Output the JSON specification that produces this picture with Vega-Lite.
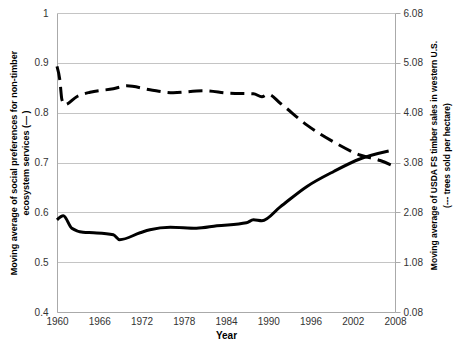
{
  "$schema": "https://vega.github.io/schema/vega-lite/v6.json",
  "autosize": "none",
  "width": 338,
  "height": 299,
  "padding": {"left": 57, "top": 13, "right": 68, "bottom": 50},
  "background": "white",
  "config": {
    "font": "Liberation Sans",
    "view": {"stroke": null},
    "axis": {"labelFont": "Liberation Sans", "titleFont": "Liberation Sans", "labelFontSize": 10, "titleFontSize": 9, "labelColor": "#333", "titleColor": "#000", "domainColor": "#aaa", "tickColor": "#aaa", "gridColor": "#c4c4c4"}
  },
  "datasets": {
    "pref": [
      {"year": 1960, "value": 0.585},
      {"year": 1960.9, "value": 0.593},
      {"year": 1962.1, "value": 0.568},
      {"year": 1963.7, "value": 0.56},
      {"year": 1965.2, "value": 0.559},
      {"year": 1968.0, "value": 0.555},
      {"year": 1968.9, "value": 0.545},
      {"year": 1971.8, "value": 0.559},
      {"year": 1973.2, "value": 0.565},
      {"year": 1976.1, "value": 0.57},
      {"year": 1979.8, "value": 0.568},
      {"year": 1982.7, "value": 0.573},
      {"year": 1986.9, "value": 0.579},
      {"year": 1987.9, "value": 0.585},
      {"year": 1989.1, "value": 0.583},
      {"year": 1991.7, "value": 0.611},
      {"year": 1995.5, "value": 0.652},
      {"year": 1999.3, "value": 0.682},
      {"year": 2003.0, "value": 0.707},
      {"year": 2007.1, "value": 0.723}
    ],
    "timber": [
      {"year": 1960, "sales": 5.01},
      {"year": 1960.4, "sales": 4.74},
      {"year": 1960.7, "sales": 4.34},
      {"year": 1961.1, "sales": 4.24},
      {"year": 1962.8, "sales": 4.4},
      {"year": 1964.7, "sales": 4.49},
      {"year": 1968.0, "sales": 4.56},
      {"year": 1969.9, "sales": 4.62},
      {"year": 1973.2, "sales": 4.54},
      {"year": 1976.5, "sales": 4.48},
      {"year": 1980.8, "sales": 4.52},
      {"year": 1984.6, "sales": 4.47},
      {"year": 1987.9, "sales": 4.46},
      {"year": 1989.1, "sales": 4.4},
      {"year": 1990.0, "sales": 4.45},
      {"year": 1991.7, "sales": 4.27},
      {"year": 1995.5, "sales": 3.83},
      {"year": 1999.2, "sales": 3.5},
      {"year": 2003.0, "sales": 3.23},
      {"year": 2005.9, "sales": 3.12},
      {"year": 2007.8, "sales": 3.01}
    ]
  },
  "layer": [
    {
      "data": {"name": "pref"},
      "mark": {"type": "line", "color": "black", "strokeWidth": 3, "interpolate": "monotone"},
      "encoding": {
        "x": {"field": "year", "type": "quantitative", "scale": {"domain": [1960, 2008], "nice": false, "zero": false},
          "axis": {"title": "Year", "values": [1960, 1966, 1972, 1978, 1984, 1990, 1996, 2002, 2008], "format": "d", "grid": false, "ticks": false, "labelFlush": false, "labelOverlap": false, "labelPadding": 4, "titlePadding": 4, "titleFontWeight": "bold", "titleFontSize": 10}},
        "y": {"field": "value", "type": "quantitative", "scale": {"domain": [0.4, 1], "nice": false, "zero": false},
          "axis": {"title": ["Moving average of social preferences  for non-timber", "ecosystem services (— )"], "values": [0.4, 0.5, 0.6, 0.7, 0.8, 0.9, 1], "format": ".1~f", "grid": true, "tickSize": 0, "labelFlush": false, "labelPadding": 9, "titlePadding": 4, "titleFontWeight": "bold", "titleLineHeight": 12}}
      }
    },
    {
      "data": {"name": "timber"},
      "mark": {"type": "line", "color": "black", "strokeWidth": 3, "strokeDash": [14, 7], "interpolate": "monotone"},
      "encoding": {
        "x": {"field": "year", "type": "quantitative"},
        "y": {"field": "sales", "type": "quantitative", "scale": {"domain": [0.08, 6.08], "nice": false, "zero": false},
          "axis": {"orient": "right", "title": ["Moving average of USDA FS timber sales in western U.S.", "(--- trees sold per hectare)"], "values": [0.08, 1.08, 2.08, 3.08, 4.08, 5.08, 6.08], "format": ".2f", "grid": false, "tickSize": 5, "labelFlush": false, "labelPadding": 3, "titlePadding": 3, "titleFontWeight": "bold", "titleFontSize": 8.5, "titleLineHeight": 13, "titleAngle": 270, "titleY": 142}}
      }
    }
  ],
  "resolve": {"scale": {"y": "independent"}}
}
